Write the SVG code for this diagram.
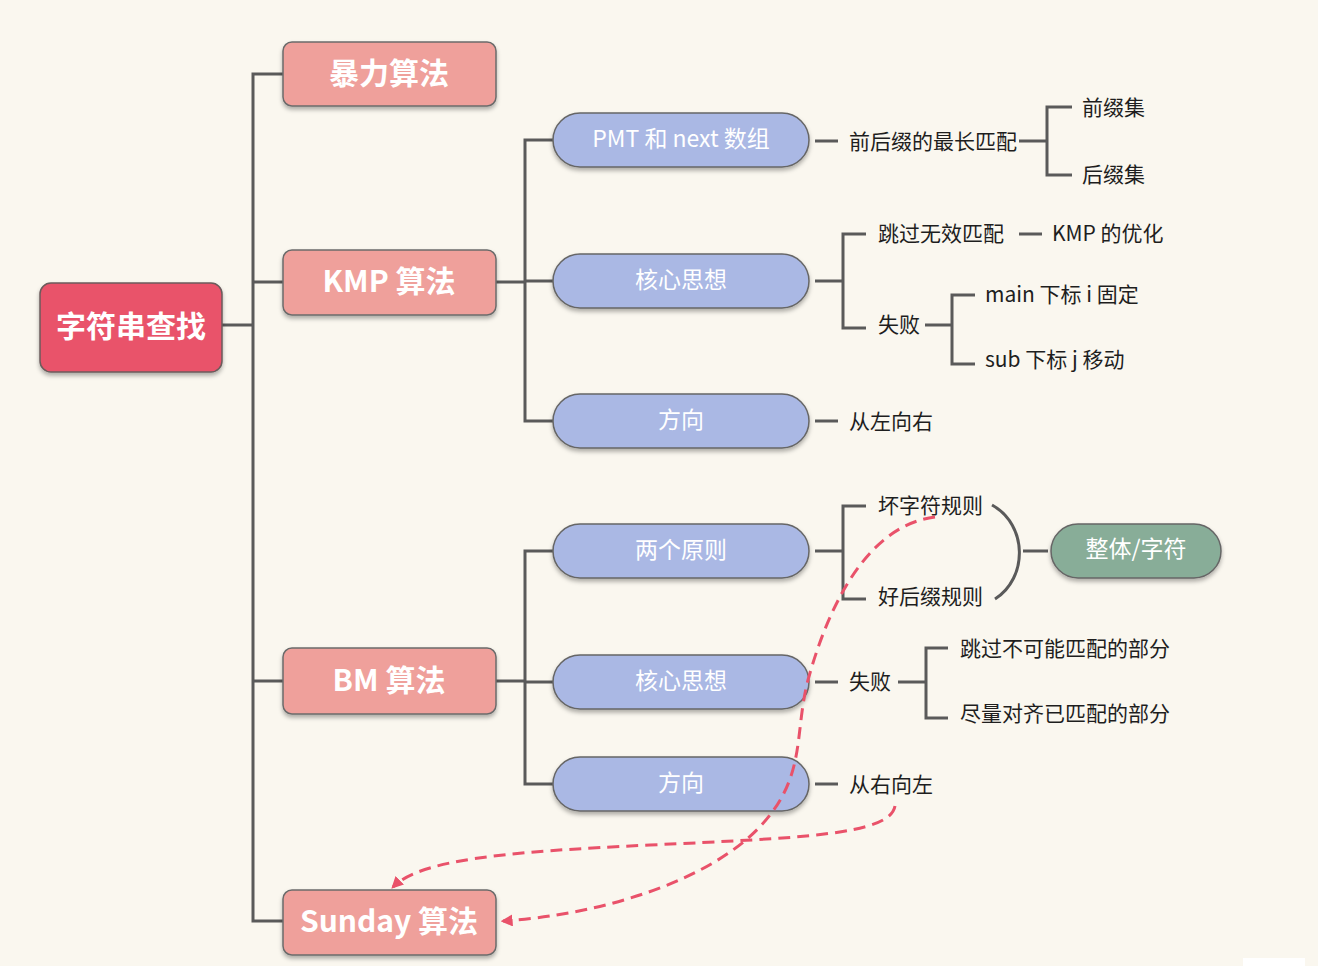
<svg xmlns="http://www.w3.org/2000/svg" width="1318" height="966" viewBox="0 0 1318 966">
<defs>
<filter id="sh" x="-10%" y="-20%" width="120%" height="150%">
<feDropShadow dx="0" dy="3" stdDeviation="2" flood-color="#000" flood-opacity="0.3"/>
</filter>
<marker id="ah" viewBox="0 0 10 10" refX="8" refY="5" markerWidth="4" markerHeight="4" orient="auto" markerUnits="strokeWidth">
<path d="M0,0 L10,5 L0,10 z" fill="#e9526a"/>
</marker>
<style>
text{font-family:"Noto Sans CJK SC","Noto Sans",sans-serif;dominant-baseline:central}
.root rect{fill:#e9526a;stroke:#6b5b5b;stroke-width:1.5}
.l1 rect{fill:#efa09b;stroke:#6b6b6b;stroke-width:1.5}
.l2 rect{fill:#aab8e4;stroke:#666;stroke-width:1.5}
.g rect{fill:#88ad98;stroke:#666;stroke-width:1.5}
.nt{fill:#fff;font-weight:700;font-size:30px;text-anchor:middle}
.pt{fill:#fff;font-size:23px;text-anchor:middle}
.lf{fill:#1e1e1e;font-size:21px}
.c{fill:none;stroke:#5a5a5a;stroke-width:3}
.d{fill:none;stroke:#e9526a;stroke-width:3;stroke-dasharray:12 7}
</style>
</defs>
<rect width="1318" height="966" fill="#faf7ef"/>

<g id="connectors">
<path class="c" d="M222 325 H253 M283 74 H253 V921 H283 M253 282 H283 M253 681 H283"/>
<path class="c" d="M496 282 H525 M553 140 H525 V421 H553 M525 281 H553"/>
<path class="c" d="M496 681 H525 M553 551 H525 V784 H553 M525 682 H553"/>
<path class="c" d="M815 141 H838 M1019 141 H1047 M1072 107 H1047 V175 H1072"/>
<path class="c" d="M815 281 H843 M866 234 H843 V328 H866 M1019 234 H1042 M925 325 H952 M975 295 H952 V364 H975"/>
<path class="c" d="M815 421 H838"/>
<path class="c" d="M815 551 H843 M866 506 H843 V599 H866 M1023 551 H1048"/>
<path class="c" d="M992 505 C1028 525 1028 578 995 599"/>
<path class="c" d="M815 682 H838 M898 682 H926 M948 648 H926 V718 H948"/>
<path class="c" d="M815 784 H838"/>
</g>

<g id="root" class="root"><rect x="40" y="283" width="182" height="89" rx="11" filter="url(#sh)"/><text class="nt" x="131" y="324">字符串查找</text></g>

<g id="n-bf" class="l1"><rect x="283" y="42" width="213" height="64" rx="9" filter="url(#sh)"/><text class="nt" x="389" y="71">暴力算法</text></g>
<g id="n-kmp" class="l1"><rect x="283" y="250" width="213" height="65" rx="9" filter="url(#sh)"/><text class="nt" x="389" y="279">KMP 算法</text></g>
<g id="n-bm" class="l1"><rect x="283" y="648" width="213" height="66" rx="9" filter="url(#sh)"/><text class="nt" x="389" y="678">BM 算法</text></g>
<g id="n-sunday" class="l1"><rect x="283" y="890" width="213" height="65" rx="9" filter="url(#sh)"/><text class="nt" x="389" y="919">Sunday 算法</text></g>

<g id="n-pmt" class="l2"><rect x="553" y="113" width="256" height="54" rx="27" filter="url(#sh)"/><text class="pt" x="681" y="137">PMT 和 next 数组</text></g>
<g id="n-kmp-core" class="l2"><rect x="553" y="254" width="256" height="54" rx="27" filter="url(#sh)"/><text class="pt" x="681" y="278">核心思想</text></g>
<g id="n-kmp-dir" class="l2"><rect x="553" y="394" width="256" height="54" rx="27" filter="url(#sh)"/><text class="pt" x="681" y="418">方向</text></g>
<g id="n-bm-rules" class="l2"><rect x="553" y="524" width="256" height="54" rx="27" filter="url(#sh)"/><text class="pt" x="681" y="548">两个原则</text></g>
<g id="n-bm-core" class="l2"><rect x="553" y="655" width="256" height="54" rx="27" filter="url(#sh)"/><text class="pt" x="681" y="679">核心思想</text></g>
<g id="n-bm-dir" class="l2"><rect x="553" y="757" width="256" height="54" rx="27" filter="url(#sh)"/><text class="pt" x="681" y="781">方向</text></g>

<g id="n-whole" class="g"><rect x="1051" y="524" width="170" height="54" rx="27" filter="url(#sh)"/><text class="pt" x="1136" y="547">整体/字符</text></g>

<g id="leaf-pm"><text class="lf" x="849" y="140">前后缀的最长匹配</text></g>
<g id="leaf-prefix"><text class="lf" x="1082" y="106">前缀集</text></g>
<g id="leaf-suffix"><text class="lf" x="1082" y="173">后缀集</text></g>
<g id="leaf-skip"><text class="lf" x="878" y="232">跳过无效匹配</text></g>
<g id="leaf-opt"><text class="lf" x="1052" y="232">KMP 的优化</text></g>
<g id="leaf-fail1"><text class="lf" x="878" y="323">失败</text></g>
<g id="leaf-main"><text class="lf" x="985" y="293">main 下标 i 固定</text></g>
<g id="leaf-sub"><text class="lf" x="985" y="358">sub 下标 j 移动</text></g>
<g id="leaf-ltr"><text class="lf" x="849" y="420">从左向右</text></g>
<g id="leaf-bad"><text class="lf" x="878" y="504">坏字符规则</text></g>
<g id="leaf-good"><text class="lf" x="878" y="595">好后缀规则</text></g>
<g id="leaf-fail2"><text class="lf" x="849" y="680">失败</text></g>
<g id="leaf-skip2"><text class="lf" x="960" y="647">跳过不可能匹配的部分</text></g>
<g id="leaf-align"><text class="lf" x="960" y="712">尽量对齐已匹配的部分</text></g>
<g id="leaf-rtl"><text class="lf" x="849" y="783">从右向左</text></g>

<g id="dashed-links">
<path class="d" d="M935 517 C870 525 830 600 808 680 C795 730 805 770 770 815 C720 880 600 915 503 921" marker-end="url(#ah)"/>
<path class="d" d="M895 806 C890 835 800 838 650 845 C500 852 420 860 393 887" marker-end="url(#ah)"/>
</g>

<rect x="1243" y="958" width="62" height="8" fill="#ffffff"/>
</svg>
